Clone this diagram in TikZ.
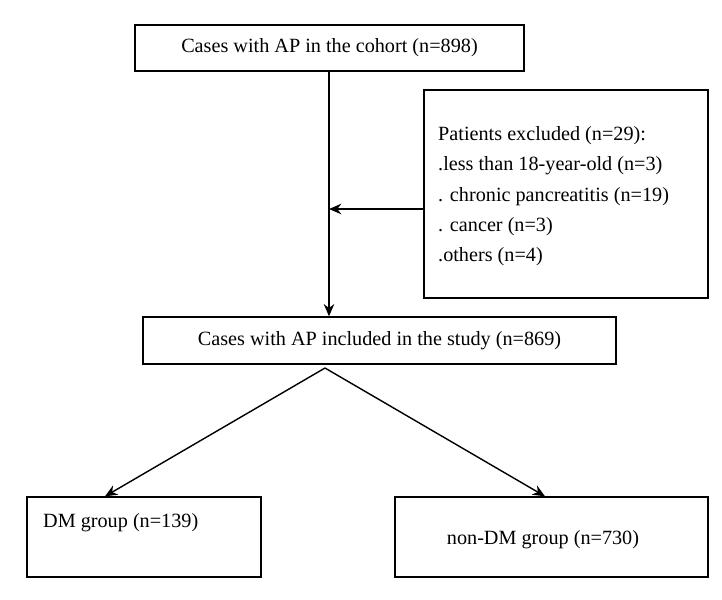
\documentclass[tikz,border=0pt]{standalone}
\usepackage{fontspec}
\setmainfont{Liberation Serif}
\usetikzlibrary{arrows.meta}
\begin{document}
\begin{tikzpicture}[x=0.02cm,y=-0.02cm,
    box/.style={draw,thick,rectangle,inner sep=0pt,font=\fontsize{11.5}{13}\selectfont},
    arr/.style={draw,thick,-{Stealth[length=7pt,width=6pt]}}]
    \useasboundingbox (0,0) rectangle (722,599);
    \node[box, minimum width=389*0.02cm, minimum height=46*0.02cm] (cohort) at (329.5,48) {Cases with AP in the cohort (n=898)};
    \node[box, minimum width=284*0.02cm, minimum height=208*0.02cm] (excl) at (566,194) {};
    \node[box, minimum width=473*0.02cm, minimum height=47*0.02cm] (incl) at (379.5,340.5) {Cases with AP included in the study (n=869)};
    \node[box, minimum width=234*0.02cm, minimum height=80*0.02cm] (dm) at (144,537) {};
    \node[box, minimum width=313*0.02cm, minimum height=80*0.02cm] (nondm) at (551.5,537) {};
    \node[font=\fontsize{11.5}{13}\selectfont] (nondmtext) at (543,540) {non-DM group (n=730)};
    \node[anchor=west,font=\fontsize{11.5}{13}\selectfont] (dmtext) at (37,523) {DM group (n=139)};
    \node[anchor=north west,align=left,font=\fontsize{11.5}{17.3}\selectfont] (excltext) at (432,120)
        {Patients excluded (n=29):\\.less than 18-year-old (n=3)\\. chronic pancreatitis (n=19)\\. cancer (n=3)\\.others (n=4)};

    \coordinate (mainline) at (329,209);
    \coordinate (split) at (325,368);
    \draw[arr] (cohort.south -| mainline) -- (incl.north -| mainline);
    \draw[arr] (excl.west |- mainline) -- (mainline);
    \draw[arr] (split) -- (dm.north -| 105,0);
    \draw[arr] (split) -- (nondm.north -| 545,0);
\end{tikzpicture}
\end{document}
